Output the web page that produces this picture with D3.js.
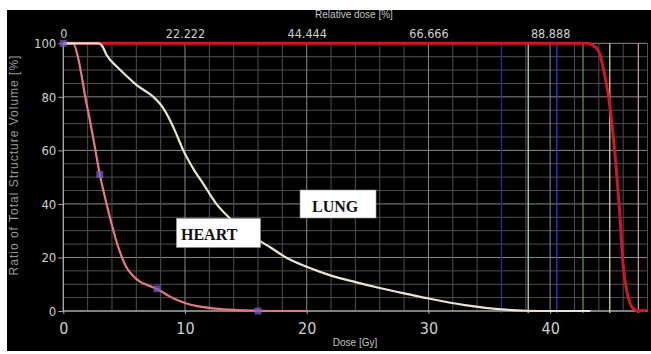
<!DOCTYPE html>
<html><head><meta charset="utf-8">
<script src="https://cdn.jsdelivr.net/npm/d3@7"></script>
<style>
html,body{margin:0;padding:0;background:#fff;}
svg{display:block;}
</style></head>
<body>
<svg id="chart" width="651" height="354"></svg>
<script>
// ---- data ----
const heartDose = [0, 0.8, 1.2, 1.5, 1.8, 2.2, 2.6, 3.0, 3.5, 4.0, 4.3, 4.7, 5.0, 5.3, 5.7, 6.3, 7.0, 7.7, 8.5, 9.2, 10, 11, 12.5, 14, 16, 18, 20];
const heartVol  = [100, 100, 95, 88, 80, 71, 61, 51, 41, 32, 27, 21.5, 18, 15.5, 13.3, 11, 9.5, 8.2, 6.1, 4.4, 3.0, 1.8, 0.9, 0.4, 0.1, 0, 0];
const lungDose = [0, 2.9, 3.2, 3.56, 4.39, 5.2, 6.03, 6.8, 7.4, 8.1, 8.77, 9.3, 9.86, 10.7, 11.5, 12.5, 13.6, 15, 16.2, 17, 18.3, 20, 22, 24, 26, 28, 30, 33, 36, 38, 40, 43.3];
const lungVol  = [100, 100, 99, 95.6, 91.3, 87.8, 84.4, 82, 80, 76.5, 71.3, 66, 60, 53, 47.5, 40.5, 35, 30, 26, 23.8, 20, 16.5, 13.2, 10.8, 8.6, 6.6, 4.7, 2.2, 0.6, 0.1, 0, 0];
const ptvDose = [0, 43.0, 43.5, 44.0, 44.4, 44.8, 45.0, 45.4, 45.7, 46.0, 46.3, 46.7, 47.0, 47.3, 47.6, 47.9];
const ptvVol  = [100, 100, 99.3, 97, 90, 80, 73, 55, 38, 17, 7.5, 1.6, 0.4, 0, 0.2, 0.3];
const markerDose = [0, 3.0, 7.7, 16.0];
const markerVol  = [100, 51, 8.3, 0];
const refLineDose = [36.0, 38.2, 40.55, 42.7, 44.9, 47.25];
const refLineColor = ["#2b2b8f", "#a9d3c4", "#3a3ac4", "#4f9a4f", "#d9d2a6", "#c8939c"];
const bottomTicks = [0, 10, 20, 30, 40];
const leftTicks = [0, 20, 40, 60, 80, 100];
const topTickValues = [0, 22.222, 44.444, 66.666, 88.888];
const topTickLabels = ["0", "22.222", "44.444", "66.666", "88.888"];
const labelNames = ["HEART", "LUNG"];
const labelDose = [9.3, 19.45];
const labelVol = [34.6, 45.2];

// ---- layout ----
const svg = d3.select("#chart");
const L = 63.3, R = 647.5, T = 43.3, B = 311;
const x = d3.scaleLinear().domain([0, 48]).range([L, R]);
const xTop = d3.scaleLinear().domain([0, 48 / 45 * 100]).range([L, R]);
const y = d3.scaleLinear().domain([0, 100]).range([B, T]);

svg.append("rect").attr("x", 7).attr("y", 10).attr("width", 644).attr("height", 341).attr("fill", "#000");

// grid
const g = svg.append("g");
g.selectAll("line.hg").data(d3.range(0, 101, 5)).enter().append("line")
  .attr("x1", L).attr("x2", R).attr("y1", d => y(d)).attr("y2", d => y(d))
  .attr("stroke", d => d % 20 === 0 ? "#8a8a8a" : "#505050").attr("stroke-width", 1);
g.selectAll("line.vg").data(d3.range(0, 49, 2)).enter().append("line")
  .attr("y1", T).attr("y2", B).attr("x1", d => x(d)).attr("x2", d => x(d))
  .attr("stroke", d => d % 10 === 0 ? "#8a8a8a" : "#505050").attr("stroke-width", 1);

// reference dose lines
g.selectAll("line.ref").data(refLineDose).enter().append("line")
  .attr("y1", T).attr("y2", B + 2).attr("x1", d => x(d)).attr("x2", d => x(d))
  .attr("stroke", (d, i) => refLineColor[i]).attr("stroke-width", 1.3);

// axes
const font = "'Liberation Sans Narrow','DejaVu Sans Condensed','Liberation Sans',Arial,sans-serif";
function styleAxis(sel, size) {
  sel.select(".domain").remove();
  sel.selectAll("line").attr("stroke", "#aaa");
  sel.selectAll("text").attr("fill", "#cfcfcf").style("font-family", font).style("font-size", size + "px");
}
const ax = svg.append("g").attr("transform", `translate(0,${B})`)
  .call(d3.axisBottom(x).tickValues(bottomTicks).tickSize(3).tickPadding(9).tickFormat(d3.format("d")));
styleAxis(ax, 16);
const ay = svg.append("g").attr("transform", `translate(${L},0)`)
  .call(d3.axisLeft(y).tickValues(leftTicks).tickSize(5).tickPadding(2).tickFormat(d3.format("d")));
styleAxis(ay, 13);
const at = svg.append("g").attr("transform", `translate(0,${T})`)
  .call(d3.axisTop(xTop).tickValues(topTickValues).tickSize(0).tickPadding(5).tickFormat((d, i) => topTickLabels[i]));
styleAxis(at, 12.5);

// axis lines
svg.append("line").attr("x1", L).attr("x2", L).attr("y1", T).attr("y2", B).attr("stroke", "#bbb");
svg.append("line").attr("x1", L).attr("x2", R).attr("y1", B).attr("y2", B).attr("stroke", "#bbb");

// titles
svg.append("text").attr("x", 354).attr("y", 18).attr("text-anchor", "middle")
  .attr("fill", "#c4c4c4").style("font-family", "'Liberation Sans',Arial,sans-serif").style("font-size", "10px")
  .text("Relative dose [%]");
svg.append("text").attr("x", 355).attr("y", 346).attr("text-anchor", "middle")
  .attr("fill", "#c4c4c4").style("font-family", "'Liberation Sans',Arial,sans-serif").style("font-size", "10px")
  .text("Dose [Gy]");
svg.append("text").attr("transform", "translate(18,165) rotate(-90)").attr("text-anchor", "middle")
  .attr("fill", "#9a9a9a").style("font-family", "'Liberation Sans',Arial,sans-serif").style("font-size", "12px")
  .style("letter-spacing", "1px")
  .text("Ratio of Total Structure Volume [%]");

// curves
const line = d3.line().x(d => x(d[0])).y(d => y(d[1])).curve(d3.curveMonotoneX);
svg.append("path").datum(d3.zip(ptvDose, ptvVol)).attr("d", line)
  .attr("fill", "none").attr("stroke", "#cf1626").attr("stroke-width", 3);
svg.append("path").datum(d3.zip(heartDose, heartVol)).attr("d", line)
  .attr("fill", "none").attr("stroke", "#e27a84").attr("stroke-width", 2.2);
svg.append("path").datum(d3.zip(lungDose, lungVol)).attr("d", line)
  .attr("fill", "none").attr("stroke", "#e9e5d2").attr("stroke-width", 2.2);

// markers
svg.selectAll("rect.mk").data(d3.zip(markerDose, markerVol)).enter().append("rect")
  .attr("x", d => x(d[0]) - 3.5).attr("y", d => y(d[1]) - 3.5).attr("width", 7).attr("height", 7)
  .attr("fill", "rgba(120,90,200,0.75)");

// labels
const lab = svg.selectAll("g.lab").data(labelNames).enter().append("g")
  .attr("transform", (d, i) => `translate(${x(labelDose[i])},${y(labelVol[i])})`);
lab.append("rect").attr("width", (d, i) => i === 0 ? 84 : 76).attr("height", (d, i) => i === 0 ? 29 : 28)
  .attr("fill", "#fff").attr("stroke", "#999").attr("stroke-width", 0.6);
lab.append("text").attr("x", (d, i) => i === 0 ? 4.5 : 12).attr("y", 22)
  .attr("fill", "#111").style("font-family", "'Liberation Serif','Times New Roman',serif")
  .style("font-weight", "bold").style("font-size", "16px").text(d => d);
</script>
</body></html>
